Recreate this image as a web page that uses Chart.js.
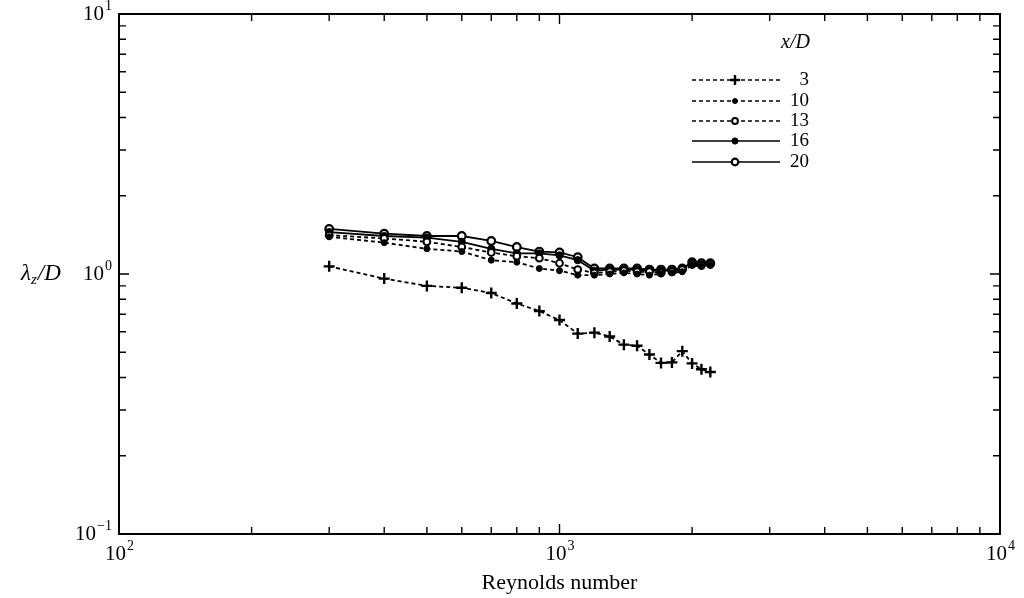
<!DOCTYPE html>
<html>
<head>
<meta charset="utf-8">
<script src="https://cdn.jsdelivr.net/npm/chart.js@4/dist/chart.umd.min.js"></script>
<style>
html, body { margin:0; padding:0; background:#fff; }
canvas { display:block; }
</style>
</head>
<body>
<canvas id="grafico" width="1024" height="598"></canvas>
<script>

// Reynolds number of each measurement
const reynolds = [300,400,500,600,700,800,900,1000,1100,1200,1300,1400,1500,1600,1700,1800,1900,2000,2100,2200];

// lambda_z / D for each x/D station
const xd3  = [1.07,0.96,0.90,0.885,0.845,0.77,0.72,0.665,0.59,0.595,0.575,0.535,0.53,0.49,0.455,0.457,0.505,0.453,0.43,0.42];
const xd10 = [1.39,1.32,1.25,1.22,1.13,1.11,1.05,1.03,0.99,0.99,1.00,1.01,1.00,0.99,1.00,1.01,1.02,1.08,1.07,1.08];
const xd13 = [1.41,1.37,1.33,1.27,1.21,1.17,1.15,1.10,1.04,1.01,1.02,1.03,1.02,1.02,1.01,1.02,1.04,1.09,1.08,1.09];
const xd16 = [1.45,1.40,1.38,1.33,1.25,1.20,1.20,1.18,1.13,1.03,1.04,1.04,1.04,1.03,1.03,1.03,1.05,1.10,1.09,1.10];
const xd20 = [1.49,1.43,1.40,1.40,1.34,1.27,1.22,1.21,1.16,1.05,1.05,1.05,1.05,1.04,1.04,1.04,1.05,1.11,1.10,1.10];

const etiquetas = ["3","10","13","16","20"];

// decade ticks and their exponents
const xDecadas = [100,1000,10000];
const xExponentes = ["2","3","4"];
const yDecadas = [0.1,1,10];
const yExponentes = ["\u22121","0","1"];

const serif = "'Liberation Serif', 'DejaVu Serif', serif";

function puntos(valores){
    return reynolds.map(
        (r, i) => ({ x:r, y:valores[i] })
    );
}

function serie(label, valores, discontinua, estilo){
    return {
        label,
        data: puntos(valores),
        borderColor: "#000",
        borderWidth: 1.8,
        borderDash: discontinua ? [4,3] : [],
        pointStyle: estilo.forma,
        pointRadius: estilo.radio,
        pointBorderWidth: estilo.borde,
        pointBackgroundColor: estilo.relleno,
        pointBorderColor: "#000",
        tension: 0,
        fill: false
    };
}

const estilos = [
    { forma:"cross",  radio:5.5, borde:2.4, relleno:"#000" },
    { forma:"circle", radio:3,   borde:1,   relleno:"#000" },
    { forma:"circle", radio:3.4, borde:2,   relleno:"#fff" },
    { forma:"circle", radio:3.6, borde:1,   relleno:"#000" },
    { forma:"circle", radio:3.8, borde:2.2, relleno:"#fff" }
];

const discontinuas = [true,true,true,false,false];

// "10" with a raised exponent
function potencia(ctx, exp, x, y, alinear){
    ctx.font = "21px " + serif;
    const anchoBase = ctx.measureText("10").width;
    ctx.font = "14px " + serif;
    const anchoExp = ctx.measureText(exp).width;
    let x0 = x;
    if(alinear === "right") x0 = x - anchoBase - anchoExp;
    if(alinear === "center") x0 = x - (anchoBase + anchoExp) / 2;
    ctx.textAlign = "left";
    ctx.textBaseline = "middle";
    ctx.font = "21px " + serif;
    ctx.fillText("10", x0, y);
    ctx.font = "14px " + serif;
    ctx.fillText(exp, x0 + anchoBase + 1, y - 8);
}

const marco = {
    id: "marco",
    afterDraw(chart){
        const ctx = chart.ctx;
        const a = chart.chartArea;
        const xs = chart.scales.x;
        const ys = chart.scales.y;
        ctx.save();
        ctx.strokeStyle = "#000";
        ctx.fillStyle = "#000";
        ctx.lineWidth = 2;
        ctx.strokeRect(a.left, a.top, a.right - a.left, a.bottom - a.top);

        // inward ticks on all four sides
        ctx.lineWidth = 1.4;
        ctx.beginPath();
        for(let d = 0; d < 2; d++){
            for(let k = 1; k <= 10; k++){
                const largo = (k === 1 || k === 10) ? 10 : 7;
                const px = xs.getPixelForValue(xDecadas[d] * k);
                ctx.moveTo(px, a.bottom); ctx.lineTo(px, a.bottom - largo);
                ctx.moveTo(px, a.top); ctx.lineTo(px, a.top + largo);
                const py = ys.getPixelForValue(yDecadas[d] * k);
                ctx.moveTo(a.left, py); ctx.lineTo(a.left + largo, py);
                ctx.moveTo(a.right, py); ctx.lineTo(a.right - largo, py);
            }
        }
        ctx.stroke();

        // decade labels
        xDecadas.forEach((v, i) => {
            potencia(ctx, xExponentes[i], xs.getPixelForValue(v), a.bottom + 20, "center");
        });
        yDecadas.forEach((v, i) => {
            potencia(ctx, yExponentes[i], a.left - 8, ys.getPixelForValue(v), "right");
        });

        // axis titles
        ctx.textAlign = "center";
        ctx.textBaseline = "middle";
        ctx.font = "22px " + serif;
        ctx.fillText("Reynolds number", (a.left + a.right) / 2, a.bottom + 49);

        const yc = ys.getPixelForValue(1);
        ctx.textAlign = "left";
        ctx.font = "italic 23px " + serif;
        ctx.fillText("\u03bb", 21, yc);
        let xt = 21 + ctx.measureText("\u03bb").width;
        ctx.font = "italic 15px " + serif;
        ctx.fillText("z", xt, yc + 6);
        xt += ctx.measureText("z").width + 1;
        ctx.font = "italic 23px " + serif;
        ctx.fillText("/D", xt, yc);

        // legend
        ctx.font = "italic 20px " + serif;
        ctx.textAlign = "right";
        ctx.fillText("x/D", 810, 43);
        const filas = [80,101,121,141,162];
        chart.data.datasets.forEach((ds, i) => {
            const y = filas[i];
            ctx.lineWidth = 1.6;
            ctx.setLineDash(ds.borderDash);
            ctx.beginPath();
            ctx.moveTo(692, y);
            ctx.lineTo(780, y);
            ctx.stroke();
            ctx.setLineDash([]);
            ctx.lineWidth = ds.pointBorderWidth;
            ctx.fillStyle = ds.pointBackgroundColor;
            Chart.helpers.drawPoint(ctx, {
                pointStyle: ds.pointStyle,
                radius: ds.pointRadius - 0.5,
                rotation: 0,
                borderWidth: ds.pointBorderWidth
            }, 735, y);
            ctx.fillStyle = "#000";
            ctx.font = "19px " + serif;
            ctx.textAlign = "right";
            ctx.fillText(etiquetas[i], 809, y);
        });
        ctx.restore();
    }
};

new Chart(
    document.getElementById("grafico"),
    {
        type: "line",
        data: {
            datasets: [
                serie("3",  xd3,  discontinuas[0], estilos[0]),
                serie("10", xd10, discontinuas[1], estilos[1]),
                serie("13", xd13, discontinuas[2], estilos[2]),
                serie("16", xd16, discontinuas[3], estilos[3]),
                serie("20", xd20, discontinuas[4], estilos[4])
            ]
        },
        options: {
            responsive: false,
            animation: false,
            layout: {
                padding: { left:119, top:14, right:24, bottom:64 }
            },
            plugins: {
                legend: { display:false },
                tooltip: { enabled:false }
            },
            scales: {
                x: { type:"logarithmic", min:100, max:10000, display:false },
                y: { type:"logarithmic", min:0.1, max:10, display:false }
            }
        },
        plugins: [marco]
    }
);

</script>
</body>
</html>
